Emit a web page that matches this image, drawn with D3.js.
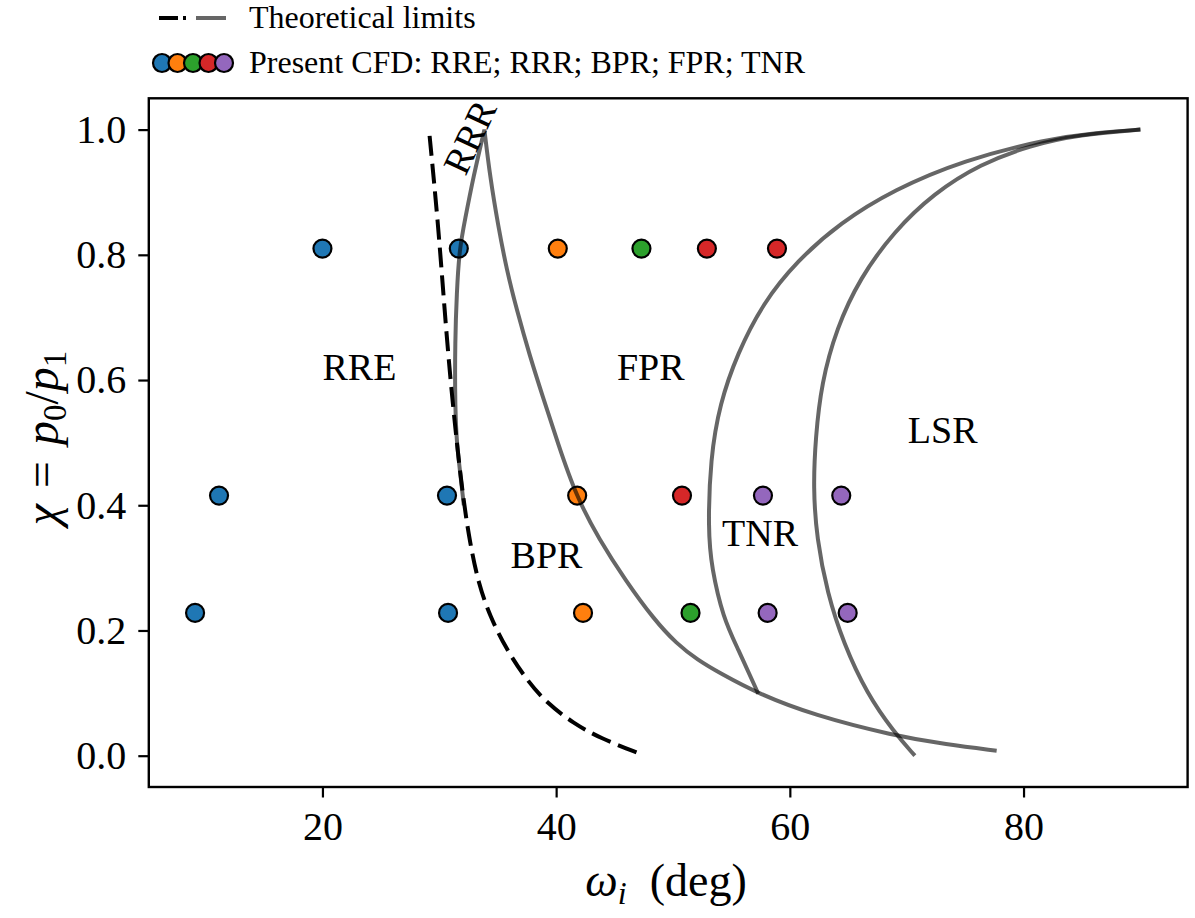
<!DOCTYPE html>
<html><head><meta charset="utf-8">
<script src="https://cdn.jsdelivr.net/npm/d3@7"></script>
<style>
body{margin:0;background:#fff}
svg{display:block}
text{font-family:"Liberation Serif","Times New Roman",serif;fill:#000}
</style>
</head><body>
<svg id="c" width="1195" height="918"></svg>
<script>
// ---------- data ----------
const xTicks = [20, 40, 60, 80];
const yTicks = [0.0, 0.2, 0.4, 0.6, 0.8, 1.0];

// CFD cases (omega_i in deg, chi)
const rreX = [20.0, 31.67, 11.15, 30.66, 9.1, 30.75];
const rreY = [0.81, 0.81, 0.4155, 0.4155, 0.228, 0.228];
const rrrX = [40.14, 41.8, 42.3];
const rrrY = [0.81, 0.4155, 0.228];
const bprX = [47.3, 51.5];
const bprY = [0.81, 0.228];
const fprX = [52.9, 58.9, 50.77];
const fprY = [0.81, 0.81, 0.4155];
const tnrX = [57.7, 64.4, 58.1, 64.95];
const tnrY = [0.4155, 0.4155, 0.228, 0.228];

// theoretical limit (dashed black)
const limX = [29.17, 29.9, 30.45, 30.93, 31.5, 32.06, 32.63, 33.34, 34.34, 35.77, 37.48, 39.2, 41.47, 43.76, 47.18];
const limY = [0.99, 0.85, 0.712, 0.605, 0.499, 0.4087, 0.3395, 0.2757, 0.2224, 0.169, 0.121, 0.084, 0.052, 0.028, 0.003];

// RRR boundary: left branch (bottom -> peak) and right branch (peak -> bottom)
const rrrLeftX = [32.1, 31.8, 31.5, 31.4, 31.35, 31.35, 31.49, 31.72, 32.2, 32.92, 33.86];
const rrrLeftY = [0.40, 0.45, 0.499, 0.54, 0.579, 0.659, 0.739, 0.809, 0.856, 0.925, 1.0];
const rrrRightX = [33.86, 34.34, 35.05, 35.77, 36.63, 37.77, 38.85, 40.15, 41.72, 43.7, 45.9, 48.4, 50.3, 52.1, 54.0, 57.3, 62.0, 68.9, 73.4, 77.7];
const rrrRightY = [1.0, 0.925, 0.845, 0.776, 0.712, 0.637, 0.574, 0.499, 0.414, 0.345, 0.281, 0.217, 0.179, 0.153, 0.132, 0.099, 0.065, 0.032, 0.018, 0.008];

// TNR boundary
const tnrLimX = [57.3, 55.5, 54.3, 53.3, 53.0, 53.2, 54.0, 55.5, 57.7, 60.6, 64.3, 68.9, 74.85, 82.0, 86.3, 90.0];
const tnrLimY = [0.099, 0.173, 0.22, 0.3, 0.361, 0.475, 0.562, 0.642, 0.723, 0.79, 0.851, 0.904, 0.951, 0.985, 0.995, 1.0];

// LSR boundary
const lsrLimX = [70.7, 68.9, 66.6, 64.6, 63.2, 62.3, 62.0, 62.2, 62.7, 64.0, 66.0, 68.9, 72.3, 76.3, 80.6, 84.8, 90.0];
const lsrLimY = [0.0, 0.038, 0.099, 0.179, 0.26, 0.347, 0.428, 0.508, 0.595, 0.683, 0.763, 0.837, 0.898, 0.945, 0.975, 0.992, 1.0];

// region labels
const regionNames = ["RRE", "FPR", "BPR", "TNR", "LSR"];
const regionX = [20.0, 45.2, 36.1, 54.2, 70.1];
const regionY = [0.6, 0.6, 0.3, 0.335, 0.5];

const colors = ["#1f77b4", "#ff7f0e", "#2ca02c", "#d62728", "#9467bd"];

// ---------- layout ----------
const svg = d3.select("#c");
const L = 148.8, R = 1187.6, T = 98.3, B = 787.0;
const x = d3.scaleLinear().domain([5.14, 94.04]).range([L, R]);
const y = d3.scaleLinear().domain([-0.05, 1.05]).range([B, T]);

const zip = (xs, ys) => xs.map((v, i) => [v, ys[i]]);
const line = d3.line().x(d => x(d[0])).y(d => y(d[1])).curve(d3.curveBasis);

// ---------- points ----------
const series = [[rreX, rreY], [rrrX, rrrY], [bprX, bprY], [fprX, fprY], [tnrX, tnrY]];
series.forEach((s, k) => {
  svg.append("g").selectAll("circle").data(zip(s[0], s[1])).join("circle")
    .attr("cx", d => x(d[0])).attr("cy", d => y(d[1])).attr("r", 9)
    .attr("fill", colors[k]).attr("stroke", "#000").attr("stroke-width", 2.2);
});

// ---------- curves ----------
const grayStyle = sel => sel.attr("fill", "none").attr("stroke", "#000")
  .attr("stroke-opacity", 0.6).attr("stroke-width", 4).attr("stroke-linejoin", "miter");

const rrrPath = line(zip(rrrLeftX, rrrLeftY)) + line(zip(rrrRightX, rrrRightY)).replace(/^M/, "L");
svg.append("path").attr("d", rrrPath).call(grayStyle);
svg.append("path").attr("d", line(zip(tnrLimX, tnrLimY))).call(grayStyle);
svg.append("path").attr("d", line(zip(lsrLimX, lsrLimY))).call(grayStyle);

svg.append("path").attr("d", line(zip(limX, limY)))
  .attr("fill", "none").attr("stroke", "#000").attr("stroke-width", 4)
  .attr("stroke-dasharray", "20,8");

// ---------- region labels ----------
svg.append("g").selectAll("text").data(regionNames).join("text")
  .attr("x", (d, i) => x(regionX[i])).attr("y", (d, i) => y(regionY[i]))
  .attr("font-size", 38).text(d => d);

svg.append("text")
  .attr("transform", `translate(${x(32.6)},${y(0.988)}) rotate(-65)`)
  .attr("text-anchor", "middle").attr("dominant-baseline", "central")
  .attr("font-size", 38).text("RRR");

// ---------- axes ----------
const xAxis = svg.append("g").attr("transform", `translate(0,${B})`)
  .call(d3.axisBottom(x).tickValues(xTicks).tickSize(10.5).tickSizeOuter(0).tickPadding(14).tickFormat(d3.format("d")));
const yAxis = svg.append("g").attr("transform", `translate(${L},0)`)
  .call(d3.axisLeft(y).tickValues(yTicks).tickSize(10.5).tickSizeOuter(0).tickPadding(12).tickFormat(d3.format(".1f")));
[xAxis, yAxis].forEach(a => {
  a.select(".domain").remove();
  a.selectAll(".tick line").attr("stroke", "#000").attr("stroke-width", 2.2);
  a.selectAll(".tick text").attr("font-size", 40).attr("font-family", "Liberation Serif").attr("fill", "#000");
});

svg.append("rect").attr("x", L).attr("y", T).attr("width", R - L).attr("height", B - T)
  .attr("fill", "none").attr("stroke", "#000").attr("stroke-width", 2.4);

// axis labels
const xl = svg.append("text").attr("x", 666).attr("y", 896).attr("text-anchor", "middle").attr("font-size", 46);
xl.append("tspan").attr("font-style", "italic").text("ω");
xl.append("tspan").attr("font-style", "italic").attr("font-size", 32).attr("dy", 8).text("i");
xl.append("tspan").attr("dy", -8).text("\u2002(deg)");

const yl = svg.append("text").attr("transform", `translate(58,438) rotate(-90)`)
  .attr("text-anchor", "middle").attr("font-size", 48);
yl.append("tspan").attr("font-style", "italic").text("χ");
yl.append("tspan").text("\u2004=\u2004");
yl.append("tspan").attr("font-style", "italic").text("p");
yl.append("tspan").attr("font-size", 33).attr("dy", 8).text("0");
yl.append("tspan").attr("dy", -8).text("/");
yl.append("tspan").attr("font-style", "italic").text("p");
yl.append("tspan").attr("font-size", 33).attr("dy", 8).text("1");

// ---------- legend ----------
const lg = svg.append("g");
lg.append("line").attr("x1", 159).attr("x2", 178).attr("y1", 18).attr("y2", 18)
  .attr("stroke", "#000").attr("stroke-width", 4);
lg.append("line").attr("x1", 183).attr("x2", 186).attr("y1", 18).attr("y2", 18)
  .attr("stroke", "#000").attr("stroke-width", 4);
lg.append("line").attr("x1", 196).attr("x2", 226).attr("y1", 18).attr("y2", 18)
  .attr("stroke", "#000").attr("stroke-opacity", 0.6).attr("stroke-width", 4);
lg.append("text").attr("x", 249).attr("y", 28).attr("font-size", 32).text("Theoretical limits");
lg.selectAll("circle").data(colors).join("circle")
  .attr("cx", (d, i) => 162 + i * 15.5).attr("cy", 63).attr("r", 9)
  .attr("fill", d => d).attr("stroke", "#000").attr("stroke-width", 2.2);
lg.append("text").attr("x", 249).attr("y", 73).attr("font-size", 32).text("Present CFD: RRE; RRR; BPR; FPR; TNR");
</script>
</body></html>
